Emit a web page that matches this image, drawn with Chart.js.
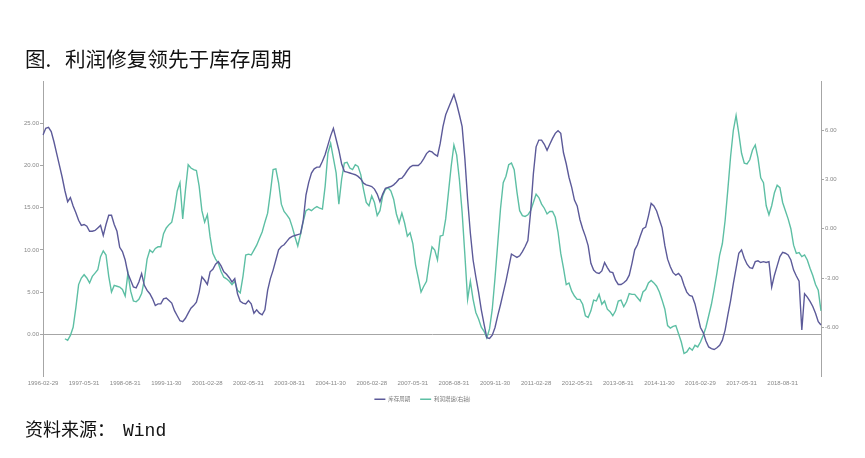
<!DOCTYPE html>
<html>
<head>
<meta charset="utf-8">
<script src="https://cdn.jsdelivr.net/npm/chart.js@4.4.1/dist/chart.umd.min.js"></script>
<style>
  html, body { margin: 0; padding: 0; background: #fff; }
  .wrap { position: relative; width: 865px; height: 458px; overflow: hidden; }
  canvas { position: absolute; left: 0; top: 0; }
  .title { position: absolute; left: 25px; top: 48px; font: 20.6px "Noto Sans CJK SC", sans-serif; color: #111; line-height: 1; white-space: nowrap; }
  .title .fig { display: inline-block; width: 40px; }
  .source { position: absolute; left: 25px; top: 419px; font: 18px "Noto Sans CJK SC", sans-serif; color: #111; line-height: 1; white-space: nowrap; }
  .source .mono { font-family: "Liberation Mono", monospace; margin-left: 8px; }
</style>
</head>
<body>
<div class="wrap">
  <canvas id="chart" width="865" height="458"></canvas>
  <div class="title"><span class="fig">图.</span>利润修复领先于库存周期</div>
  <div class="source">资料来源：<span class="mono">Wind</span></div>
</div>
<script>
// monthly, 1996-02 .. 2019-10 (month-end dates)
const startYear = 1996, startMonth = 2, monthCount = 285;

const shownTicks = ['1996-02-29', '1997-05-31', '1998-08-31', '1999-11-30', '2001-02-28',
  '2002-05-31', '2003-08-31', '2004-11-30', '2006-02-28', '2007-05-31', '2008-08-31',
  '2009-11-30', '2011-02-28', '2012-05-31', '2013-08-31', '2014-11-30', '2016-02-29',
  '2017-05-31', '2018-08-31'];

const leftTicks = [0, 5, 10, 15, 20, 25];
const rightTicks = [-6, -3, 0, 3, 6];

const seriesNames = ['库存周期', '利润增速(右轴)'];

// 库存周期 (left axis)
const inventory = [
  23.6, 24.4, 24.5, 24.0, 22.8, 21.4, 20.0, 18.6, 17.0, 15.7,
  16.2, 15.2, 14.4, 13.5, 12.9, 13.0, 12.8, 12.2, 12.2, 12.3,
  12.6, 12.9, 11.7, 13.0, 14.1, 14.1, 13.0, 12.2, 10.3, 9.8,
  8.8, 7.2, 6.4, 5.6, 5.5, 6.2, 7.2, 5.8, 5.2, 4.8,
  4.2, 3.4, 3.6, 3.6, 4.2, 4.3, 4.0, 3.7, 2.8, 2.2,
  1.6, 1.5, 1.9, 2.5, 3.1, 3.4, 3.8, 5.0, 6.8, 6.4,
  5.9, 7.4, 7.7, 8.3, 8.6, 8.1, 7.4, 7.1, 6.7, 6.2,
  6.6, 4.8, 3.9, 3.7, 3.6, 4.0, 3.6, 2.5, 2.9, 2.5,
  2.3, 2.9, 5.2, 6.6, 7.6, 8.8, 10.0, 10.4, 10.6, 11.0,
  11.4, 11.6, 11.7, 11.8, 11.9, 13.5, 16.5, 18.0, 19.1, 19.6,
  19.8, 19.8, 20.5, 21.3, 22.4, 23.5, 24.4, 23.1, 21.8, 20.2,
  19.3, 19.2, 19.1, 19.0, 18.9, 18.7, 18.4, 17.9, 17.7, 17.6,
  17.5, 17.2, 16.6, 15.7, 16.6, 17.3, 17.4, 17.5, 17.7, 18.0,
  18.4, 18.5, 18.9, 19.4, 19.8, 20.0, 20.0, 20.0, 20.3, 20.8,
  21.4, 21.7, 21.6, 21.3, 21.1, 22.6, 24.6, 26.0, 26.8, 27.6,
  28.4, 27.3, 26.0, 24.6, 20.8, 16.0, 12.0, 8.8, 6.8, 5.0,
  2.9, 1.2, -0.4, -0.5, -0.1, 0.8, 2.2, 3.5, 4.9, 6.3,
  7.9, 9.5, 9.3, 9.1, 9.3, 9.8, 10.4, 11.1, 14.5, 19.0,
  22.2, 23.0, 23.0, 22.5, 21.8, 22.5, 23.2, 23.8, 24.1, 23.8,
  21.5, 20.2, 18.6, 17.4, 15.9, 15.2, 13.6, 12.5, 11.6, 10.5,
  8.4, 7.6, 7.3, 7.2, 7.5, 8.5, 7.9, 7.4, 7.3, 6.4,
  5.9, 5.9, 6.1, 6.4, 7.0, 8.4, 10.0, 10.6, 11.6, 12.5,
  12.7, 14.0, 15.5, 15.2, 14.6, 13.6, 12.6, 10.5, 8.9, 8.0,
  7.3, 7.0, 7.2, 6.8, 5.8, 5.0, 4.6, 4.5, 3.6, 2.2,
  0.8, 0.2, -0.8, -1.5, -1.7, -1.8, -1.6, -1.3, -0.7, 0.5,
  2.3, 4.0, 6.0, 7.8, 9.6, 10.0, 9.0, 8.3, 7.9, 7.8,
  8.6, 8.7, 8.5, 8.6, 8.5, 8.6, 5.6, 7.0, 8.1, 9.2,
  9.7, 9.6, 9.4, 8.8, 7.6, 6.9, 6.3, 0.5, 4.8, 4.4,
  3.9, 3.3, 2.5, 1.5, 1.1
];

// 利润增速 (right axis)
const profit = [
  null, null, null, null, null, null, null, null, -6.7, -6.8,
  -6.5, -6.0, -4.8, -3.4, -3.0, -2.8, -3.0, -3.3, -2.9, -2.7,
  -2.5, -1.7, -1.35, -1.6, -2.9, -3.85, -3.45, -3.5, -3.55, -3.7,
  -4.1, -2.7, -3.8, -4.4, -4.45, -4.3, -3.95, -3.1, -1.85, -1.3,
  -1.45, -1.2, -1.1, -1.1, -0.3, 0.05, 0.25, 0.4, 1.2, 2.3,
  2.8, 0.6, 2.35, 3.9, 3.7, 3.6, 3.55, 2.6, 1.1, 0.4,
  0.85, -0.5, -1.5, -1.85, -2.1, -2.6, -2.95, -3.05, -3.2, -3.4,
  -3.2, -3.75, -3.9, -2.9, -1.6, -1.55, -1.6, -1.3, -1.0, -0.6,
  -0.2, 0.4, 0.95, 2.2, 3.6, 3.65, 2.8, 1.5, 1.05, 0.85,
  0.6, 0.1, -0.5, -1.05, -0.35, 0.45, 1.1, 1.2, 1.1, 1.25,
  1.35, 1.25, 1.2, 2.6, 4.6, 5.2, 4.3, 3.4, 1.5, 3.0,
  4.0, 4.05, 3.7, 3.6, 3.9, 3.8, 3.3, 2.4, 1.6, 1.4,
  2.0, 1.6, 0.8, 1.1, 2.0, 2.4, 2.5, 2.3, 1.8, 0.9,
  0.35, 0.95, 0.35, -0.45, -0.25, -0.9, -2.2, -3.0, -3.85, -3.5,
  -3.2, -2.0, -1.1, -1.3, -1.9, -0.45, -0.4, 0.6, 2.2, 3.8,
  5.1, 4.5, 3.0, 1.0, -1.6, -4.3, -3.2, -4.3, -5.1, -5.5,
  -6.0, -6.25, -6.65, -6.1, -4.9, -3.0, -0.9, 1.2, 2.8, 3.2,
  3.9, 4.0, 3.6, 2.25, 1.1, 0.8, 0.75, 0.85, 1.1, 1.6,
  2.1, 1.9, 1.5, 1.25, 0.9, 1.05, 1.05, 0.7, -0.2, -1.5,
  -2.4, -3.4, -3.3, -3.8, -4.1, -4.3, -4.3, -4.6, -5.3, -5.4,
  -5.0, -4.35, -4.4, -4.0, -4.6, -4.4, -4.9, -5.05, -5.3, -5.0,
  -4.4, -4.35, -4.75, -4.45, -3.95, -4.0, -4.0, -4.2, -4.4, -3.85,
  -3.7, -3.3, -3.15, -3.3, -3.5, -3.85, -4.35, -4.9, -5.9, -6.05,
  -5.95, -5.9, -6.4, -6.9, -7.6, -7.5, -7.25, -7.4, -7.1, -7.2,
  -6.9, -6.5, -6.0, -5.3, -4.6, -3.7, -2.7, -1.6, -0.9, 0.5,
  2.4, 4.4, 6.0, 6.9, 5.8, 4.6, 4.0, 3.95, 4.2, 4.8,
  5.1, 4.3, 3.1, 2.8, 1.4, 0.85, 1.4, 2.2, 2.65, 2.5,
  1.6, 1.1, 0.6, 0.0, -1.0, -1.5, -1.45, -1.7, -1.6, -1.9,
  -2.4, -2.85, -3.4, -3.75, -5.0
];

// month-end category labels
const categories = [];
for (let i = 0; i < monthCount; i++) {
  const y = startYear + Math.floor((startMonth - 1 + i) / 12);
  const m = (startMonth - 1 + i) % 12 + 1;
  const d = new Date(Date.UTC(y, m, 0)).getUTCDate();
  categories.push(`${y}-${String(m).padStart(2, '0')}-${String(d).padStart(2, '0')}`);
}

const axisGray = '#a6a6a6';
const tickFont = { family: 'Arial, "Liberation Sans", sans-serif', size: 6 };

new Chart(document.getElementById('chart'), {
  type: 'line',
  data: {
    labels: categories,
    datasets: [
      { label: seriesNames[0], data: inventory, yAxisID: 'y',
        borderColor: '#5c5a99', backgroundColor: '#5c5a99', borderWidth: 1.4 },
      { label: seriesNames[1], data: profit, yAxisID: 'y1',
        borderColor: '#5dbfa4', backgroundColor: '#5dbfa4', borderWidth: 1.4 }
    ]
  },
  options: {
    responsive: false, animation: false,
    layout: { padding: { top: 81, right: 20, bottom: 46, left: 0 } },
    elements: { point: { radius: 0 }, line: { tension: 0 } },
    plugins: {
      tooltip: { enabled: false },
      legend: {
        position: 'bottom',
        labels: {
          usePointStyle: true, pointStyle: 'line', pointStyleWidth: 11, boxHeight: 6,
          padding: 10, color: '#777',
          font: { family: '"Noto Sans CJK SC", sans-serif', size: 5.5 }
        }
      }
    },
    scales: {
      x: {
        offset: false,
        grid: { display: false, drawTicks: false },
        border: { display: false },
        afterFit: (axis) => { axis.height = 10; },
        ticks: {
          autoSkip: false, maxRotation: 0, padding: 3, color: '#888', font: tickFont,
          callback: function (val) {
            const lab = this.getLabelForValue(val);
            return shownTicks.includes(lab) ? lab : '';
          }
        }
      },
      y: {
        position: 'left', min: -5, max: 30,
        afterBuildTicks: (axis) => { axis.ticks = leftTicks.map(v => ({ value: v })); },
        afterFit: (axis) => { axis.width = 43; },
        border: { display: true, color: axisGray, width: 1 },
        grid: {
          color: (ctx) => ctx.tick && ctx.tick.value === 0 ? axisGray : 'rgba(0,0,0,0)',
          tickColor: axisGray, tickLength: 3, lineWidth: 1
        },
        ticks: { color: '#888', font: tickFont, padding: 1, callback: v => Number(v).toFixed(2) }
      },
      y1: {
        position: 'right', min: -9, max: 9,
        afterBuildTicks: (axis) => { axis.ticks = rightTicks.map(v => ({ value: v })); },
        afterFit: (axis) => { axis.width = 24; },
        border: { display: true, color: axisGray, width: 1 },
        grid: { drawOnChartArea: false, tickColor: axisGray, tickLength: 3 },
        ticks: { color: '#888', font: tickFont, padding: 1, callback: v => Number(v).toFixed(2) }
      }
    }
  }
});
</script>
</body>
</html>
